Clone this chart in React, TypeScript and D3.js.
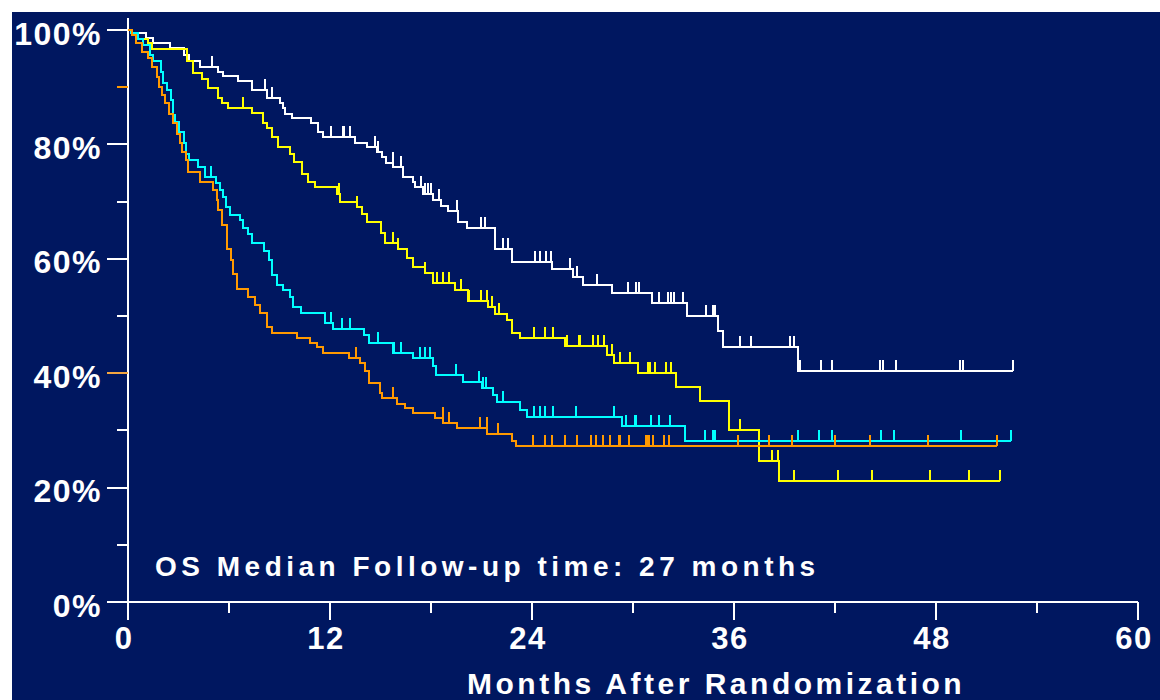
import * as d3 from "d3";

// Kaplan-Meier style OS curves
const whiteTime = [0, 0.2, 1.05, 1.5, 2.5, 3.3, 3.6, 4.28, 5.37, 5.66, 6.55, 7.35, 8.24, 9.03, 9.19, 9.33, 9.72, 10.85, 11.31, 11.6, 13.49, 14.18, 14.77, 15.1, 15.33, 15.76, 16.32, 16.95, 17.05, 17.5, 18.14, 18.6, 19.03, 19.62, 20.12, 21.8, 22.8, 25.17, 26.46, 27.05, 28.77, 31.11, 33.19, 35.07, 35.33, 39.82];
const whiteSurv = [100, 99.4, 98.6, 97.7, 96.8, 95.6, 94.5, 93.6, 92.7, 92.0, 91.1, 89.5, 88.05, 87.2, 86.3, 85.4, 84.55, 83.7, 82.2, 81.35, 80.3, 79.6, 78.7, 77.8, 76.8, 76.1, 74.35, 73.5, 72.6, 71.3, 70.3, 69.3, 68.4, 66.5, 65.3, 61.8, 59.5, 58.3, 56.9, 55.4, 54.1, 52.3, 50.06, 47.4, 44.5, 40.4];
const whiteCensor = [5.0, 8.15, 8.55, 12.05, 12.75, 12.85, 13.2, 14.7, 14.85, 15.75, 16.2, 17.4, 17.65, 17.85, 18.0, 18.45, 19.55, 20.95, 21.2, 22.25, 22.55, 24.2, 24.5, 24.85, 25.15, 26.25, 26.65, 27.85, 29.7, 30.15, 30.35, 31.55, 32.1, 32.25, 32.45, 32.95, 34.35, 34.75, 34.9, 36.35, 37.0, 39.3, 39.55, 39.9, 41.15, 41.85, 44.65, 44.85, 45.6, 49.45, 49.6, 52.6];
const whiteEnd = 52.6;

const yellowTime = [0, 0.25, 0.61, 1.21, 1.41, 3.5, 3.88, 4.38, 4.77, 5.37, 5.56, 5.96, 7.35, 8.0, 8.24, 8.53, 8.93, 9.62, 9.86, 10.32, 10.71, 11.11, 12.44, 12.6, 13.58, 13.88, 14.18, 15.01, 15.27, 16.02, 16.55, 16.95, 17.64, 18.14, 19.43, 20.22, 21.41, 21.8, 22.5, 22.8, 23.29, 25.96, 28.44, 28.87, 30.32, 32.56, 33.98, 35.72, 37.5, 38.68];
const yellowSurv = [100, 99.4, 98.4, 97.7, 96.6, 94.5, 92.4, 91.4, 89.8, 88.05, 87.2, 86.4, 85.5, 83.7, 82.8, 81.35, 79.6, 78.4, 77.0, 74.9, 73.5, 72.6, 71.4, 70.0, 69.1, 67.9, 66.5, 64.45, 62.8, 61.8, 60.1, 58.6, 57.5, 55.7, 54.5, 52.6, 51.5, 50.35, 49.3, 47.1, 46.1, 44.75, 43.2, 41.8, 40.1, 37.6, 35.1, 30.1, 24.7, 21.15];
const yellowCensor = [6.85, 12.55, 13.6, 15.75, 16.05, 17.65, 18.35, 18.7, 19.05, 19.8, 20.25, 20.95, 21.35, 21.6, 22.05, 24.1, 24.8, 25.25, 26.05, 26.8, 26.85, 27.6, 27.9, 28.3, 28.75, 29.25, 29.8, 30.9, 31.0, 31.3, 31.95, 32.25, 36.35, 38.25, 38.62, 39.55, 42.15, 44.2, 47.65, 49.95, 51.8];
const yellowEnd = 51.8;

const cyanTime = [0, 0.15, 0.6, 0.9, 1.3, 1.5, 1.95, 2.1, 2.3, 2.55, 2.65, 2.8, 3.05, 3.3, 3.45, 3.6, 4.15, 4.55, 5.2, 5.45, 5.65, 5.85, 6.05, 6.65, 6.85, 7.15, 7.35, 8.05, 8.35, 8.55, 8.85, 9.2, 9.6, 9.8, 10.3, 11.7, 12.2, 14.0, 14.3, 15.75, 16.95, 18.1, 18.3, 19.9, 21.0, 21.7, 21.9, 23.3, 23.7, 29.35, 33.1];
const cyanSurv = [100, 99.4, 98.4, 97.4, 95.6, 94.5, 92.7, 90.7, 89.5, 87.8, 85.1, 84.0, 82.2, 80.2, 78.4, 77.2, 76.1, 74.35, 73.3, 72.0, 70.8, 69.1, 67.7, 66.8, 65.3, 64.4, 62.7, 61.3, 59.8, 57.2, 55.4, 54.5, 53.4, 51.6, 50.5, 48.7, 47.8, 46.7, 45.2, 43.5, 42.7, 41.2, 39.6, 38.4, 37.35, 36.2, 34.9, 33.6, 32.3, 30.8, 28.2];
const cyanCensor = [4.95, 12.05, 12.7, 13.2, 14.85, 15.8, 16.2, 17.35, 17.65, 17.95, 19.5, 20.85, 21.1, 21.25, 22.25, 24.1, 24.5, 24.8, 25.25, 26.6, 28.85, 29.6, 30.1, 30.2, 31.05, 31.55, 32.2, 34.3, 34.75, 34.85, 39.8, 41.05, 41.8, 44.75, 45.5, 49.5, 52.45];
const cyanEnd = 52.45;

const orangeTime = [0, 0.22, 0.48, 0.81, 1.21, 1.41, 1.7, 1.86, 2.0, 2.2, 2.45, 2.69, 2.89, 3.09, 3.19, 3.45, 3.59, 4.28, 5.03, 5.27, 5.37, 5.56, 5.86, 6.1, 6.26, 6.46, 7.15, 7.54, 7.84, 8.24, 8.53, 10.02, 10.81, 11.21, 11.6, 13.15, 13.78, 14.08, 14.34, 14.97, 15.07, 15.96, 16.46, 16.95, 18.24, 18.73, 19.56, 21.31, 22.8, 23.05];
const orangeSurv = [100, 99.1, 97.7, 96.2, 95.05, 93.6, 91.8, 90.1, 88.6, 87.2, 85.4, 83.7, 81.9, 80.2, 78.7, 77.3, 75.2, 73.5, 72.0, 70.3, 68.5, 65.9, 61.8, 59.8, 57.4, 54.8, 53.3, 51.9, 50.5, 48.1, 47.0, 46.1, 45.2, 44.5, 43.5, 42.7, 41.7, 40.3, 38.2, 36.5, 35.6, 34.7, 33.9, 33.1, 32.1, 31.35, 30.4, 29.4, 28.2, 27.27];
const orangeCensor = [13.55, 15.75, 18.7, 19.05, 20.9, 21.3, 22.0, 24.05, 24.75, 25.2, 25.95, 26.7, 27.5, 27.8, 28.2, 28.65, 29.15, 29.25, 29.75, 30.8, 30.85, 30.95, 31.2, 31.85, 32.15, 36.25, 38.1, 39.45, 42.0, 44.1, 47.55, 51.65];
const orangeEnd = 51.65;

const yMajor = [0, 20, 40, 60, 80, 100];
const yMinor = [10, 30, 50, 70, 90];
const xMajor = [0, 12, 24, 36, 48, 60];
const xMinor = [6, 18, 30, 42, 54];

const BG = "#001760";
const FONT = "'Liberation Sans', Arial, Helvetica, sans-serif";

const x = d3.scaleLinear().domain([0, 60]).range([128, 1138]);
const y = d3.scaleLinear().domain([0, 100]).range([602, 30]);

const series = [
  { color: "#ffffff", time: whiteTime, surv: whiteSurv, censor: whiteCensor, end: whiteEnd },
  { color: "#ffff00", time: yellowTime, surv: yellowSurv, censor: yellowCensor, end: yellowEnd },
  { color: "#00ffff", time: cyanTime, surv: cyanSurv, censor: cyanCensor, end: cyanEnd },
  { color: "#ff9900", time: orangeTime, surv: orangeSurv, censor: orangeCensor, end: orangeEnd },
];

const line = d3
  .line<[number, number]>()
  .x((d) => x(d[0]))
  .y((d) => y(d[1]))
  .curve(d3.curveStepAfter);

function survAt(times: number[], survs: number[], t: number) {
  const i = d3.bisectRight(times, t) - 1;
  return survs[Math.max(0, i)];
}

export default function App() {
  return (
    <svg
      width={1160}
      height={700}
      style={{ position: "absolute", left: 0, top: 0 }}
      fontFamily={FONT}
      fontWeight="bold"
    >
      <rect x={0} y={0} width={1160} height={700} fill="#ffffff" />
      <rect x={12} y={12} width={1148} height={688} fill={BG} />

      {/* axes */}
      <g stroke="#ffffff" strokeWidth={2} shapeRendering="crispEdges">
        <line x1={x(0)} x2={x(0)} y1={18} y2={y(0) + 18} />
        <line x1={107} x2={x(60)} y1={y(0)} y2={y(0)} />
        {yMajor.map((v) => (
          <line key={"ym" + v} x1={107} x2={x(0)} y1={y(v)} y2={y(v)} stroke={v === 40 ? "#f5a640" : "#ffffff"} />
        ))}
        {yMinor.map((v) => (
          <line key={"yn" + v} x1={117} x2={x(0)} y1={y(v)} y2={y(v)} stroke={v === 90 ? "#ff9900" : "#ffffff"} />
        ))}
        {xMajor.map((v) => (
          <line key={"xm" + v} x1={x(v)} x2={x(v)} y1={y(0)} y2={y(0) + 18} />
        ))}
        {xMinor.map((v) => (
          <line key={"xn" + v} x1={x(v)} x2={x(v)} y1={y(0)} y2={y(0) + 11} />
        ))}
      </g>

      <g fill="#ffffff" fontSize={32} letterSpacing={1.5} textAnchor="end">
        {yMajor.map((v) => (
          <text key={"yl" + v} x={102} y={y(v) + 14.5}>
            {v + "%"}
          </text>
        ))}
      </g>
      <g fill="#ffffff" fontSize={31} letterSpacing={1.5} textAnchor="middle">
        {xMajor.map((v) => (
          <text key={"xl" + v} x={x(v) - 4} y={649}>
            {v}
          </text>
        ))}
      </g>

      {/* curves */}
      {series.map((s) => {
        const pts: [number, number][] = s.time.map((t, i) => [t, s.surv[i]] as [number, number]);
        pts.push([s.end, s.surv[s.surv.length - 1]]);
        return (
          <g key={s.color} stroke={s.color} strokeWidth={2} fill="none" shapeRendering="crispEdges">
            <path d={line(pts) || ""} />
            {s.censor.map((c, i) => {
              const v = survAt(s.time, s.surv, c);
              return <line key={i} x1={x(c)} x2={x(c)} y1={y(v)} y2={y(v) - 11} />;
            })}
          </g>
        );
      })}

      <text x={155} y={576} fill="#ffffff" fontSize={28} letterSpacing={4.5}>
        OS Median Follow-up time: 27 months
      </text>
      <text x={467} y={694} fill="#ffffff" fontSize={30} letterSpacing={3.5}>
        Months After Randomization
      </text>
    </svg>
  );
}
